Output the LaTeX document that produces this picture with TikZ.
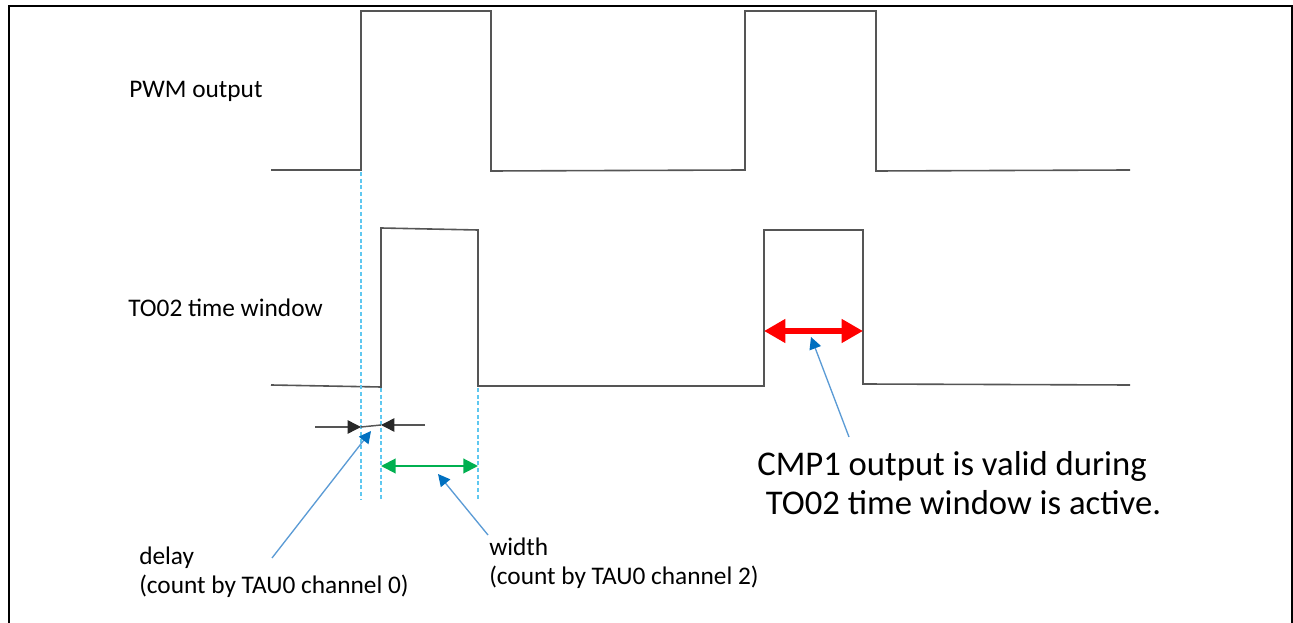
\documentclass[tikz,border=0pt]{standalone}
\usepackage{fontspec}
\setmainfont{Carlito}
\usepackage{xcolor}
\usetikzlibrary{arrows.meta}
\definecolor{wavegray}{RGB}{85,85,85}
\definecolor{guidecyan}{RGB}{95,200,240}
\definecolor{calloutblue}{RGB}{91,155,213}
\definecolor{callhead}{RGB}{0,112,192}
\definecolor{widthgreen}{RGB}{0,176,80}
\definecolor{tipdark}{RGB}{40,40,40}

\begin{document}
\begin{tikzpicture}[x=0.75pt,y=-0.75pt,
  wave/.style={draw=wavegray, line width=1.2pt, line join=miter},
  guide/.style={draw=guidecyan, line width=1.1pt, dash pattern=on 3pt off 2pt},
  callout/.style={draw=calloutblue, line width=1pt, -{Triangle[length=9pt,width=9pt,color=callhead]}},
  sig/.style={font=\fontsize{19}{21}\selectfont, inner sep=0pt, anchor=base west, align=left},
  note/.style={font=\fontsize{26}{28.5}\selectfont, inner sep=0pt, anchor=base west, align=left}]
\useasboundingbox (0,0) rectangle (1293,623);
\draw[line width=2.2pt] (9,6) rectangle (1292,640);

% signal names
\node[sig] (pwmname) at (129,98) {PWM output};
\node[sig] (toname) at (128,317) {TO02 time window};

% waveforms
\draw[wave] (271,170) -- (361,170) -- (361,11) -- (491,11) -- (491,171) -- (745,170)
  -- (745,11) -- (876,11) -- (876,171) -- (1130,170);
\draw[wave] (271,385) -- (381,387) -- (381,228) -- (478,230) -- (478,386) -- (764,386)
  -- (764,230) -- (863,230) -- (863,384) -- (1130,385);

% timing marks
\coordinate (pwmrise) at (361,172);
\coordinate (winrise) at (381,388);
\coordinate (winfall) at (478,388);
\draw[guide] (pwmrise) -- ++(0,328);
\draw[guide] (winrise) -- ++(0,112);
\draw[guide] (winfall) -- ++(0,112);

% delay
\coordinate (dl) at (315,427);
\coordinate (dr) at (425,425);
\coordinate (dla) at (361,427);
\coordinate (dra) at (381,425);
\draw[draw=wavegray, line width=1.1pt, -{Triangle[length=10pt,width=10pt,color=tipdark]}] (dl) -- (dla);
\draw[draw=wavegray, line width=1.1pt, -{Triangle[length=10pt,width=10pt,color=tipdark]}] (dr) -- (dra);
\draw[draw=wavegray, line width=1.1pt] (dla) -- (dra);

% width
\coordinate (wl) at (381,466);
\coordinate (wr) at (478,466);
\draw[draw=widthgreen, line width=1.5pt, {Triangle[length=11pt,width=11pt]}-{Triangle[length=11pt,width=11pt]}] (wl) -- (wr);

% active window
\coordinate (al) at (764,331);
\coordinate (ar) at (863,331);
\draw[draw=red, line width=5pt, {Triangle[length=16pt,width=17pt,fill=red]}-{Triangle[length=16pt,width=17pt,fill=red]}] (al) -- (ar);

% callouts
\node[sig] (delaytext) at (139,593) {delay\\(count by TAU0 channel 0)};
\node[sig] (widthtext) at (489,584) {width\\(count by TAU0 channel 2)};
\node[note] (cmptext) at (757,514) {CMP1 output is valid during\\\hspace*{0.25em}TO02 time window is active.};
\coordinate (delayfoot) at (272,558);
\coordinate (widthfoot) at (488,535);
\coordinate (cmpfoot) at (849,437);
\draw[callout] (delayfoot) -- (371,431);
\draw[callout] (widthfoot) -- (438,474);
\draw[callout] (cmpfoot) -- (811,337);
\end{tikzpicture}
\end{document}
